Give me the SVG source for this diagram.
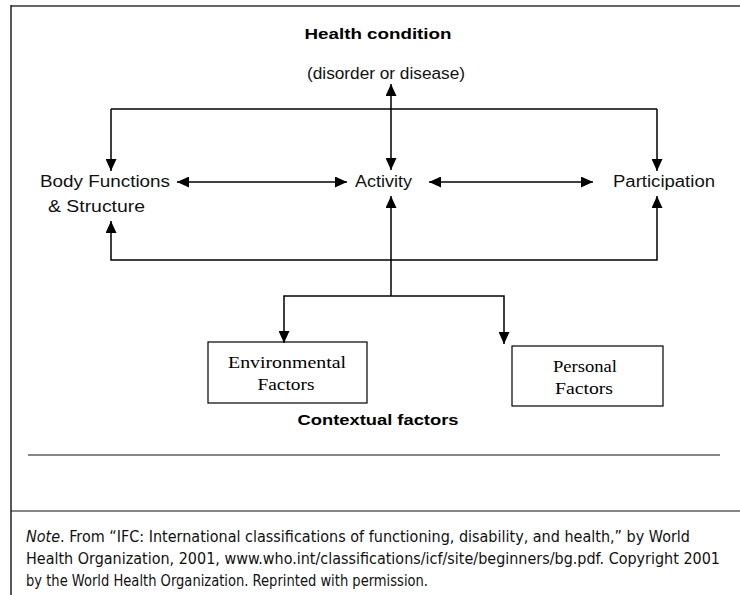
<svg xmlns="http://www.w3.org/2000/svg" width="740" height="595" viewBox="0 0 740 595">
<style>
.s{font-family:"Liberation Sans",Arial,sans-serif;fill:#111;}
.b{font-family:"Liberation Sans",Arial,sans-serif;font-weight:bold;fill:#000;}
.r{font-family:"Liberation Serif","Times New Roman",serif;fill:#000;font-size:16px;}
.n{font-family:"Liberation Sans Narrow","DejaVu Sans Condensed","Liberation Sans",sans-serif;fill:#111;font-size:15.5px;}
.c{stroke:#000;stroke-width:1.5;fill:none;}
.box{stroke:#000;stroke-width:1.2;fill:#fff;}
</style>
<defs>
<marker id="ah" viewBox="0 0 12 11" refX="12" refY="5.5" markerWidth="12" markerHeight="11" markerUnits="userSpaceOnUse" orient="auto-start-reverse">
<path d="M0,0 L12,5.5 L0,11 Z" fill="#000"/>
</marker>
</defs>
<rect width="740" height="595" fill="#fff"/>
<line x1="11" y1="6" x2="740" y2="6" stroke="#666" stroke-width="2"/>
<line x1="11" y1="5" x2="11" y2="595" stroke="#222" stroke-width="1.5"/>

<g id="health">
<text class="b" x="378" y="39" font-size="15" text-anchor="middle" textLength="147" lengthAdjust="spacingAndGlyphs">Health condition</text>
<text class="s" x="386" y="79" font-size="16" text-anchor="middle" textLength="158" lengthAdjust="spacingAndGlyphs">(disorder or disease)</text>
</g>
<g id="body">
<text class="s" x="40" y="187" font-size="16" textLength="130" lengthAdjust="spacingAndGlyphs">Body Functions</text>
<text class="s" x="48" y="212" font-size="16" textLength="97" lengthAdjust="spacingAndGlyphs">&amp; Structure</text>
</g>
<g id="activity">
<text class="s" x="355" y="187" font-size="16" textLength="57" lengthAdjust="spacingAndGlyphs">Activity</text>
</g>
<g id="participation">
<text class="s" x="613" y="187" font-size="16" textLength="102" lengthAdjust="spacingAndGlyphs">Participation</text>
</g>
<g id="environmental">
<rect class="box" x="208" y="342" width="159" height="61"/>
<text class="r" x="287" y="368" text-anchor="middle" textLength="118" lengthAdjust="spacingAndGlyphs">Environmental</text>
<text class="r" x="286" y="390" text-anchor="middle" textLength="57" lengthAdjust="spacingAndGlyphs">Factors</text>
</g>
<g id="personal">
<rect class="box" x="512" y="346" width="151" height="60"/>
<text class="r" x="585" y="372" text-anchor="middle" textLength="64" lengthAdjust="spacingAndGlyphs">Personal</text>
<text class="r" x="584" y="394" text-anchor="middle" textLength="58" lengthAdjust="spacingAndGlyphs">Factors</text>
</g>
<g id="contextual">
<text class="b" x="378" y="425" font-size="15" text-anchor="middle" textLength="161" lengthAdjust="spacingAndGlyphs">Contextual factors</text>
</g>

<g id="connectors">
<path class="c" d="M391,170 V84" marker-start="url(#ah)" marker-end="url(#ah)"/>
<path class="c" d="M111,109 H657"/>
<path class="c" d="M111,109 V171" marker-end="url(#ah)"/>
<path class="c" d="M657,109 V171" marker-end="url(#ah)"/>
<path class="c" d="M177,182 H347" marker-start="url(#ah)" marker-end="url(#ah)"/>
<path class="c" d="M429,182 H593" marker-start="url(#ah)" marker-end="url(#ah)"/>
<path class="c" d="M111,221 V260 H657 V196" marker-start="url(#ah)" marker-end="url(#ah)"/>
<path class="c" d="M391,296 V196" marker-end="url(#ah)"/>
<path class="c" d="M284,343 V296 H504 V344" marker-start="url(#ah)" marker-end="url(#ah)"/>
</g>

<line x1="28" y1="455" x2="720" y2="455" stroke="#111" stroke-width="1.2"/>
<line x1="11" y1="511" x2="740" y2="511" stroke="#111" stroke-width="1.2"/>
<g id="note">
<text class="n" x="26" y="542" textLength="664" lengthAdjust="spacingAndGlyphs"><tspan font-style="italic">Note</tspan>. From “IFC: International classifications of functioning, disability, and health,” by World</text>
<text class="n" x="26" y="564" textLength="694" lengthAdjust="spacingAndGlyphs">Health Organization, 2001, www.who.int/classifications/icf/site/beginners/bg.pdf. Copyright 2001</text>
<text class="n" x="26" y="586" textLength="402" lengthAdjust="spacingAndGlyphs">by the World Health Organization. Reprinted with permission.</text>
</g>
</svg>
